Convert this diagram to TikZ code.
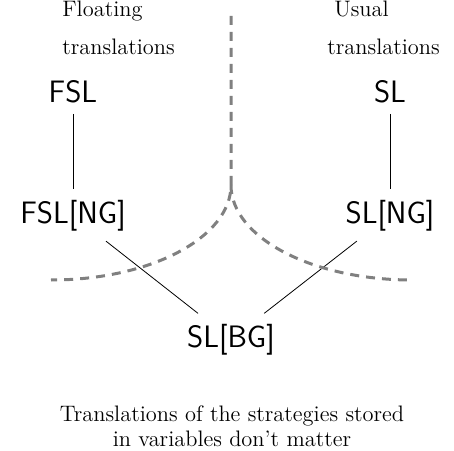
\documentclass[tikz,border=0pt]{standalone}
\usetikzlibrary{positioning}

\begin{document}
\begin{tikzpicture}[
    x=0.5pt,
    y=0.5pt,
    every node/.style={
        font=\fontsize{11.2}{12.5}\selectfont
    },
    strategy/.style={
        font=\sffamily\fontsize{15.5}{18}\selectfont,
        anchor=base,
        inner sep=5pt
    },
    heading/.style={
        anchor=base west,
        inner sep=0pt
    },
    divider/.style={
        draw,
        gray,
        line width=1.5pt,
        dash pattern=on 4.5pt off 3.5pt
    },
    order/.style={
        draw,
        thin
    },
    ]
    \useasboundingbox (0,0) rectangle (454,450);

    % column headings
    \node [heading] (floating) at (62,433) {Floating};
    \node [heading] (floatingtr) at (62,395) {translations};
    \node [heading] (usual) at (334,433) {Usual};
    \node [heading] (usualtr) at (327,395) {translations};

    % strategies
    \node [strategy] (fsl) at (73,347) {FSL};
    \node [strategy] (fslng) at (73,227) {FSL[NG]};
    \node [strategy] (sl) at (390,347) {SL};
    \node [strategy] (slng) at (390,227) {SL[NG]};
    \node [strategy] (slbg) at (231,103) {SL[BG]};

    \draw [order] (fsl) -- (fslng);
    \draw [order] (sl) -- (slng);
    \draw [order] (fslng) -- (slbg);
    \draw [order] (slng) -- (slbg);

    % separation of the two kinds of translations
    \coordinate (top) at (231,434);
    \coordinate (cusp) at (231,265);
    \draw [divider] (top) -- (cusp)
        arc [start angle=0, end angle=-90, x radius=90pt, y radius=47.5pt];
    \draw [divider] (cusp)
        arc [start angle=180, end angle=270, x radius=90.5pt, y radius=47.5pt];

    \node [align=center] (caption) at (232,24)
        {Translations of the strategies stored\\in variables don't matter};
\end{tikzpicture}
\end{document}
